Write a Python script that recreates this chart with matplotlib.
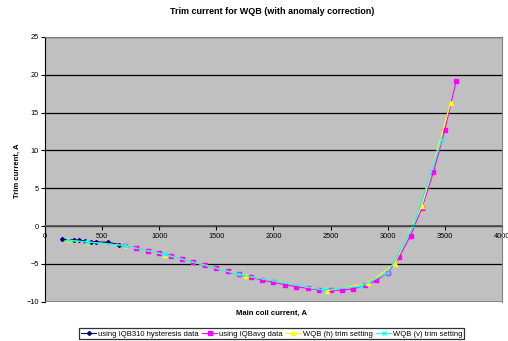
import matplotlib
matplotlib.use("Agg")
import matplotlib.pyplot as plt

plt.rcParams['font.family'] = ['Liberation Sans', 'DejaVu Sans']

# IQB310 hysteresis data
iqb310_x = [150, 250, 300, 350, 400, 450, 550, 650]
iqb310_y = [-1.77, -1.85, -1.9, -1.95, -2.1, -2.1, -2.15, -2.45]

# IQBavg data
avg_x = [700, 800, 900, 1000, 1100, 1200, 1300, 1400, 1500, 1600, 1700, 1800,
         1900, 2000, 2100, 2200, 2300, 2400, 2500, 2600, 2700, 2800, 2900, 3000,
         3100, 3200, 3300, 3400, 3500, 3600]
avg_y = [-2.65, -2.9, -3.3, -3.6, -3.97, -4.37, -4.8, -5.2, -5.6, -6.0, -6.4, -6.75,
         -7.15, -7.45, -7.77, -8.03, -8.25, -8.43, -8.5, -8.5, -8.3, -7.86, -7.2, -6.2,
         -4.1, -1.28, 2.4, 7.1, 12.7, 19.2]

# WQB (h) trim setting
h_x = [200, 370, 700, 1050, 1760, 2470, 2830, 3060, 3300, 3550]
h_y = [-1.9, -2.1, -2.6, -3.8, -6.6, -8.55, -7.6, -5.0, 2.7, 16.3]

# WQB (v) trim setting
v_x = [200, 370, 700, 1050, 1690, 2430, 2770, 3000, 3225, 3475]
v_y = [-1.9, -2.1, -2.6, -3.75, -6.4, -8.45, -8.0, -6.2, 0.0, 11.5]

fig = plt.figure(figsize=(5.08, 3.41), dpi=100)
ax = fig.add_axes([0.0886, 0.1155, 0.8994, 0.776])
ax.set_facecolor('#C0C0C0')

ax.plot(iqb310_x, iqb310_y, color='#000080', marker='D', ms=2, lw=0.8,
        label='using IQB310 hysteresis data')
ax.plot(avg_x, avg_y, color='#FF00FF', marker='s', ms=3, lw=0.8,
        label='using IQBavg data')
ax.plot(h_x, h_y, color='#FFFF00', marker='^', ms=3, lw=0.8,
        label='WQB (h) trim setting')
ax.plot(v_x, v_y, color='#00FFFF', marker='x', ms=3, mew=0.9, lw=0.8,
        label='WQB (v) trim setting')

ax.set_xlim(0, 4000)
ax.set_ylim(-10, 25)
ax.set_xticks(range(0, 4001, 500))
ax.set_yticks(range(-10, 26, 5))
ax.set_axisbelow(True)
ax.grid(axis='y', color='black', lw=0.9)
ax.grid(axis='x', visible=False)

for s in ['top', 'right']:
    ax.spines[s].set_color('#808080')
ax.spines['left'].set_color('black')
ax.spines['bottom'].set_position(('data', 0))
ax.spines['bottom'].set_color('#505050')
ax.spines['bottom'].set_linewidth(1.2)
ax.axhline(-10, color='#808080', lw=1.2, zorder=3)

ax.tick_params(axis='both', labelsize=5.3, length=3, width=0.8, direction='out', pad=1.5)
ax.tick_params(axis='x', pad=2)

fig.text(0.535, 0.965, 'Trim current for WQB (with anomaly correction)',
         ha='center', va='center', fontsize=6.5, fontweight='bold')
fig.text(0.535, 0.082, 'Main coil current, A', ha='center', va='center',
         fontsize=5.5, fontweight='bold')
fig.text(0.035, 0.5, 'Trim current, A', ha='center', va='center', rotation=90,
         fontsize=5.5, fontweight='bold')

leg = fig.legend(loc='lower center', bbox_to_anchor=(0.535, 0.0), ncol=4,
                 fontsize=5.5, frameon=True, fancybox=False, edgecolor='black',
                 handlelength=2.0, columnspacing=0.4, handletextpad=0.25,
                 borderpad=0.25, borderaxespad=0.2)
leg.get_frame().set_linewidth(0.9)

fig.savefig('out.png', dpi=100)
